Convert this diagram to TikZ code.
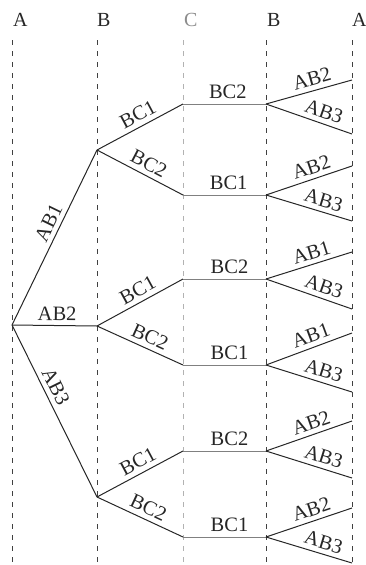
\documentclass[tikz,border=0pt]{standalone}
\usepackage{fontspec}
\setmainfont{Liberation Serif}
\begin{document}
\begin{tikzpicture}[x=1pt,y=-1pt,
  guide/.style={draw=black!75, line width=0.8pt, dash pattern=on 5pt off 6pt},
  guidec/.style={draw=black!30, line width=0.8pt, dash pattern=on 5pt off 6pt},
  tree/.style={draw=black!85, line width=1pt},
  hline/.style={draw=black!50, line width=1pt},
  lab/.style={font=\fontsize{20.5}{24}\selectfont, text=black!85, sloped, above, inner sep=4.5pt},
  head/.style={font=\fontsize{20}{24}\selectfont, text=black!85, anchor=base west, inner sep=0pt}]
\useasboundingbox (0,0) rectangle (365,565);

% column guides
\coordinate (gA1) at (12,40);  \coordinate (gA1e) at (12,565);
\coordinate (gB1) at (97,40);  \coordinate (gB1e) at (97,565);
\coordinate (gC)  at (183,40); \coordinate (gCe)  at (183,565);
\coordinate (gB2) at (266,40); \coordinate (gB2e) at (266,565);
\coordinate (gA2) at (352,40); \coordinate (gA2e) at (352,565);
\draw[guide]  (gA1) -- (gA1e);
\draw[guide]  (gB1) -- (gB1e);
\draw[guidec] (gC)  -- (gCe);
\draw[guide]  (gB2) -- (gB2e);
\draw[guide]  (gA2) -- (gA2e);

% column headings
\node[head] (hA1) at (13,26)  {A};
\node[head] (hB1) at (97,26)  {B};
\node[head, text=black!45] (hC) at (184,26) {C};
\node[head] (hB2) at (267,26) {B};
\node[head] (hA2) at (352,26) {A};

% branch points
\coordinate (r)   at (12,325);
\coordinate (b1)  at (97,150);
\coordinate (b2)  at (97,326);
\coordinate (b3)  at (97,497);
\coordinate (c11) at (183,104); \coordinate (c12) at (183,195);
\coordinate (c21) at (183,279); \coordinate (c22) at (183,365);
\coordinate (c31) at (183,451); \coordinate (c32) at (183,537);
\coordinate (d11) at (266,104); \coordinate (d12) at (266,195);
\coordinate (d21) at (266,279); \coordinate (d22) at (266,365);
\coordinate (d31) at (266,451); \coordinate (d32) at (266,537);
\coordinate (e1)  at (352,80);  \coordinate (e2)  at (352,134);
\coordinate (e3)  at (352,166); \coordinate (e4)  at (352,221);
\coordinate (e5)  at (352,252); \coordinate (e6)  at (352,309);
\coordinate (e7)  at (352,333); \coordinate (e8)  at (352,392);
\coordinate (e9)  at (352,421); \coordinate (e10) at (352,478);
\coordinate (e11) at (352,508); \coordinate (e12) at (352,563);

% A -> B
\draw[tree] (r) -- node[lab, pos=.555] {AB1} (b1);
\draw[tree] (r) -- node[lab, pos=.53]  {AB2} (b2);
\draw[tree] (r) -- node[lab, pos=.39]  {AB3} (b3);

% B -> C
\draw[tree] (b1) -- node[lab, pos=.54] {BC1} (c11);
\draw[tree] (b1) -- node[lab, pos=.54] {BC2} (c12);
\draw[tree] (b2) -- node[lab, pos=.54] {BC1} (c21);
\draw[tree] (b2) -- node[lab, pos=.56] {BC2} (c22);
\draw[tree] (b3) -- node[lab, pos=.54] {BC1} (c31);
\draw[tree] (b3) -- node[lab, pos=.54] {BC2} (c32);

% C -> B
\draw[hline] (c11) -- node[lab, pos=.54] {BC2} (d11);
\draw[hline] (c12) -- node[lab, pos=.55] {BC1} (d12);
\draw[hline] (c21) -- node[lab, pos=.56] {BC2} (d21);
\draw[hline] (c22) -- node[lab, pos=.56] {BC1} (d22);
\draw[hline] (c31) -- node[lab, pos=.56] {BC2} (d31);
\draw[hline] (c32) -- node[lab, pos=.56] {BC1} (d32);

% B -> A
\draw[tree] (d11) -- node[lab, pos=.57] {AB2} (e1);
\draw[tree] (d11) -- node[lab, pos=.63] {AB3} (e2);
\draw[tree] (d12) -- node[lab, pos=.57] {AB2} (e3);
\draw[tree] (d12) -- node[lab, pos=.63] {AB3} (e4);
\draw[tree] (d21) -- node[lab, pos=.57] {AB1} (e5);
\draw[tree] (d21) -- node[lab, pos=.63] {AB3} (e6);
\draw[tree] (d22) -- node[lab, pos=.57] {AB1} (e7);
\draw[tree] (d22) -- node[lab, pos=.63] {AB3} (e8);
\draw[tree] (d31) -- node[lab, pos=.57] {AB2} (e9);
\draw[tree] (d31) -- node[lab, pos=.63] {AB3} (e10);
\draw[tree] (d32) -- node[lab, pos=.57] {AB2} (e11);
\draw[tree] (d32) -- node[lab, pos=.63] {AB3} (e12);
\end{tikzpicture}
\end{document}
